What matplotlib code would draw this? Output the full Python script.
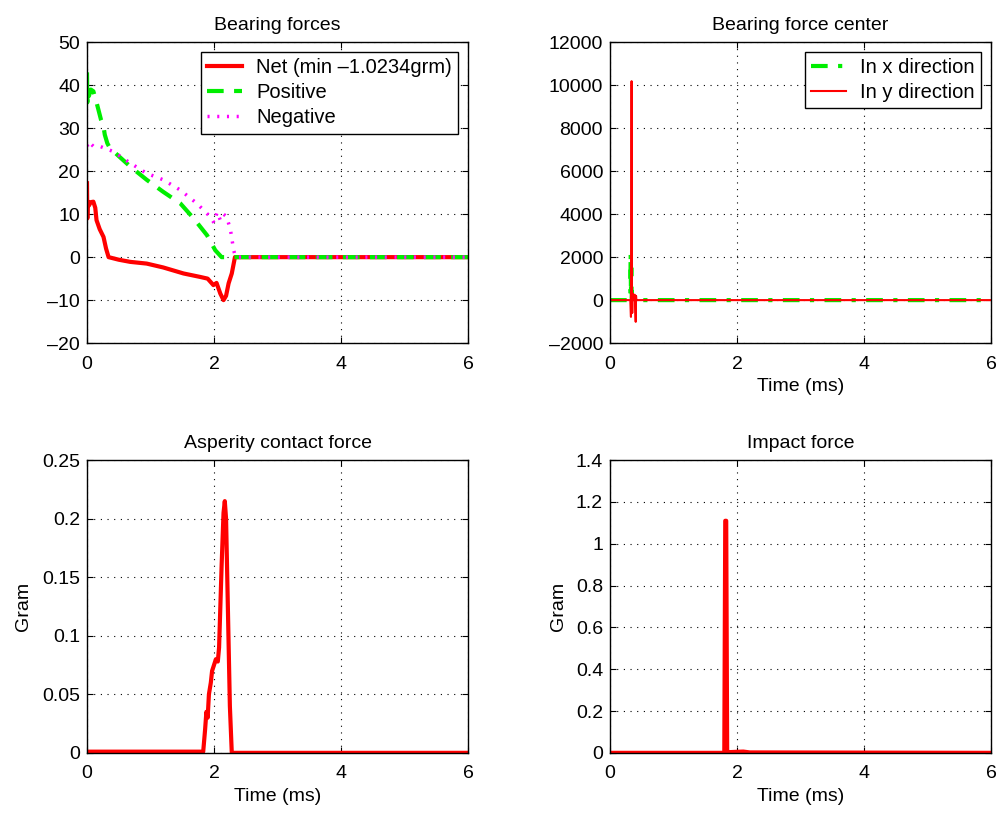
import numpy as np
import matplotlib.pyplot as plt
from matplotlib.ticker import FuncFormatter

plt.rcParams['font.family'] = ['Liberation Sans', 'DejaVu Sans']
plt.rcParams['font.size'] = 14

## Bearing forces (gram) vs time (ms)
t_pos = [0, 0.005, 0.01, 0.03, 0.06, 0.1, 0.15, 0.18, 0.22, 0.26, 0.28, 0.32, 0.36,
         0.5, 0.68, 0.94, 1.2, 1.47, 1.68, 1.89, 2.02, 2.12, 2.2, 6]
pos = [43, 36, 40, 37.5, 39, 38.6, 36, 34.3, 32, 30.4, 28.5, 26.5, 25.4,
       23.5, 21.1, 18, 15.2, 12.5, 9, 5.1, 1.6, 0, 0, 0]
t_neg = [0, 0.02, 0.05, 0.1, 0.2, 0.41, 0.68, 0.94, 1.2, 1.47, 1.73, 1.94, 2.0,
         2.05, 2.1, 2.15, 2.2, 2.26, 2.31, 2.34, 6]
neg = [26.1, 25.5, 26.5, 25.8, 25.8, 24.6, 21.9, 19.5, 18, 15.6, 12.5, 9.4, 8.0,
       10.5, 8.6, 10, 9.4, 6.3, 1.6, 0, 0]
t_net = [0, 0.005, 0.01, 0.03, 0.06, 0.1, 0.13, 0.15, 0.2, 0.26, 0.3, 0.34, 0.5,
         0.68, 0.94, 1.2, 1.52, 1.78, 1.9, 1.99, 2.04, 2.1, 2.15, 2.19, 2.23, 2.28, 2.33, 6]
net = [17.2, 9, 13, 12, 12.8, 12.9, 11.5, 8.6, 6.5, 4.7, 2, 0, -0.6,
       -1.1, -1.5, -2.4, -3.8, -4.6, -5.0, -6.5, -6.0, -8.5, -10, -9, -6.1, -3.8, 0, 0]

## Bearing force center vs time (ms)
t_cx = [0, 0.32, 0.325, 0.33, 0.335, 0.34, 0.345, 0.35, 6]
cx = [0, 0, 2178, 300, 1500, 0, 400, 0, 0]
t_cy = [0, 0.32, 0.33, 0.335, 0.34, 0.345, 0.35, 0.36, 0.37, 0.39, 0.405, 0.41, 0.415, 0.43, 6]
cy = [0, 0, -780, 2000, 10190, 0, -600, 300, 0, 250, -1011, 200, 0, 0, 0]

## Asperity contact force (gram)
t_asp = [0, 1.83, 1.86, 1.88, 1.9, 1.92, 1.95, 1.97, 2.0, 2.03, 2.06, 2.08, 2.12,
         2.15, 2.17, 2.19, 2.22, 2.25, 2.28, 6]
asp = [0.001, 0.001, 0.02, 0.035, 0.03, 0.05, 0.06, 0.07, 0.075, 0.08, 0.078, 0.09, 0.16,
       0.205, 0.215, 0.2, 0.12, 0.04, 0.0, 0.0]

## Impact force (gram)
t_imp = [0, 1.8, 1.815, 1.83, 1.845, 1.86, 2.0, 2.1, 2.2, 6]
imp = [0, 0, 1.11, 1.11, 0.01, 0.003, 0.005, 0.006, 0.002, 0]

fig = plt.figure(figsize=(10, 8.13), dpi=100)

fmt = FuncFormatter(lambda v, p: ('%g' % v).replace('-', '\u2013'))


def style(ax, xlim, ylim, yticks):
    ax.set_xlim(*xlim)
    ax.set_ylim(*ylim)
    ax.set_xticks(np.arange(0, 7, 2))
    ax.set_yticks(yticks)
    ax.yaxis.set_major_formatter(fmt)
    ax.grid(True, color='black', linestyle=(0, (1, 5)), linewidth=0.8)
    ax.tick_params(direction='in', top=True, right=True, length=4, labelsize=14)
    ax.tick_params(axis='x', pad=9)
    ax.tick_params(axis='y', pad=5)
    for s in ax.spines.values():
        s.set_linewidth(1.0)


W = 0.381
H1 = 0.370
H2 = 0.360
leg_kw = dict(loc='upper right', fancybox=False, edgecolor='black', framealpha=1,
              handlelength=1.75, borderaxespad=0.5, labelspacing=0.3, borderpad=0.3,
              handletextpad=0.7, fontsize=14.5)

ax1 = fig.add_axes([0.087, 0.578, W, H1])
ax1.plot(t_net, net, color='red', lw=3, label='Net (min \u20131.0234grm)')
ax1.plot(t_pos, pos, color='#00ee00', lw=3, ls=(0, (4, 2.5)), label='Positive')
ax1.plot(t_neg, neg, color='magenta', lw=2.5, ls=(0, (0.6, 2.2)), label='Negative')
style(ax1, (0, 6), (-20, 50), np.arange(-20, 51, 10))
ax1.set_title('Bearing forces', fontsize=14, pad=9)
ax1.legend(**leg_kw)

ax2 = fig.add_axes([0.610, 0.578, W, H1])
ax2.plot(t_cx, cx, color='#00ee00', lw=3, ls=(0, (4, 2.5, 1, 2.5)), label='In x direction')
ax2.plot(t_cy, cy, color='red', lw=1.5, label='In y direction')
style(ax2, (0, 6), (-2000, 12000), np.arange(-2000, 12001, 2000))
ax2.set_title('Bearing force center', fontsize=14, pad=9)
ax2.set_xlabel('Time (ms)', fontsize=14, labelpad=4)
ax2.legend(**leg_kw)

ax3 = fig.add_axes([0.087, 0.074, W, H2])
ax3.plot(t_asp, asp, color='red', lw=3)
style(ax3, (0, 6), (0, 0.25), np.arange(0, 0.251, 0.05))
ax3.set_title('Asperity contact force', fontsize=14, pad=9)
ax3.set_xlabel('Time (ms)', fontsize=14, labelpad=4)
ax3.set_ylabel('Gram', fontsize=14, labelpad=7)

ax4 = fig.add_axes([0.610, 0.074, W, H2])
ax4.plot(t_imp, imp, color='red', lw=3)
style(ax4, (0, 6), (0, 1.4), np.arange(0, 1.41, 0.2))
ax4.set_title('Impact force', fontsize=14, pad=9)
ax4.set_xlabel('Time (ms)', fontsize=14, labelpad=4)
ax4.set_ylabel('Gram', fontsize=14, labelpad=6)

fig.savefig('out.png', dpi=100)
